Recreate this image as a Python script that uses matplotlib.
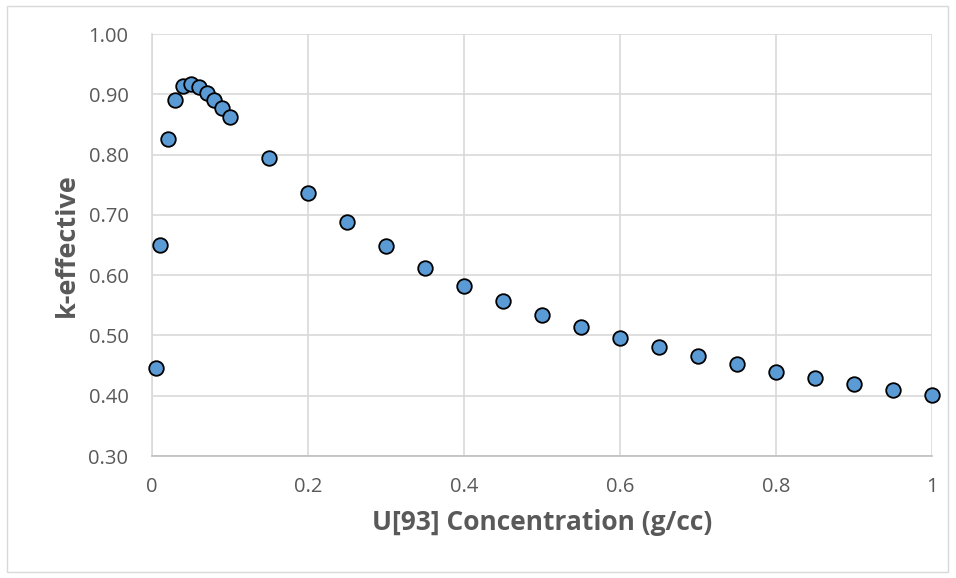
import matplotlib
matplotlib.use("Agg")
import matplotlib.pyplot as plt
from matplotlib.patches import Rectangle

# U[93] concentration (g/cc) vs k-effective
conc = [0.005, 0.01, 0.02, 0.03, 0.04, 0.05, 0.06, 0.07, 0.08, 0.09, 0.10,
        0.15, 0.2, 0.25, 0.3, 0.35, 0.4, 0.45, 0.5, 0.55, 0.6, 0.65,
        0.7, 0.75, 0.8, 0.85, 0.9, 0.95, 1.0]
keff = [0.446, 0.650, 0.826, 0.890, 0.914, 0.917, 0.912, 0.902, 0.890, 0.877, 0.862,
        0.794, 0.736, 0.688, 0.648, 0.612, 0.582, 0.557, 0.534, 0.514, 0.496, 0.481,
        0.466, 0.453, 0.439, 0.429, 0.419, 0.409, 0.401]

xticks = [0, 0.2, 0.4, 0.6, 0.8, 1]
xlabels = ["0", "0.2", "0.4", "0.6", "0.8", "1"]
yticks = [0.3, 0.4, 0.5, 0.6, 0.7, 0.8, 0.9, 1.0]

plt.rcParams['font.family'] = ['Open Sans', 'DejaVu Sans']
txt = '#595959'

fig = plt.figure(figsize=(9.56, 5.78), dpi=100)
fig.patches.append(Rectangle((0.007, 0.01), 0.985, 0.98, transform=fig.transFigure,
                             fill=False, edgecolor='#D9D9D9', linewidth=1))
ax = fig.add_axes([0.159, 0.211, 0.816, 0.730])

ax.scatter(conc, keff, s=110, c='#5B9BD5', edgecolors='black', linewidths=1.3,
           zorder=3, clip_on=False)

ax.set_xlim(0, 1)
ax.set_ylim(0.3, 1.0)
ax.set_xticks(xticks)
ax.set_xticklabels(xlabels)
ax.set_yticks(yticks)
ax.set_yticklabels([f"{v:.2f}" for v in yticks])
ax.grid(True, color='#D9D9D9', linewidth=1.2)
ax.set_axisbelow(True)
ax.tick_params(length=0, labelsize=14.5, colors=txt)
ax.tick_params(axis='x', pad=15)
ax.tick_params(axis='y', pad=17)

for s in ['top', 'right']:
    ax.spines[s].set_visible(False)
ax.spines['bottom'].set_color('#BFBFBF')
ax.spines['left'].set_color('#D9D9D9')
ax.spines['bottom'].set_linewidth(1.2)
ax.spines['left'].set_linewidth(1.2)

ax.set_xlabel("U[93] Concentration (g/cc)", fontsize=19, fontweight='bold', color=txt, labelpad=9)
ax.set_ylabel("k-effective", fontsize=19.5, fontweight='bold', color=txt, labelpad=6)

fig.savefig("out.png", dpi=100)
